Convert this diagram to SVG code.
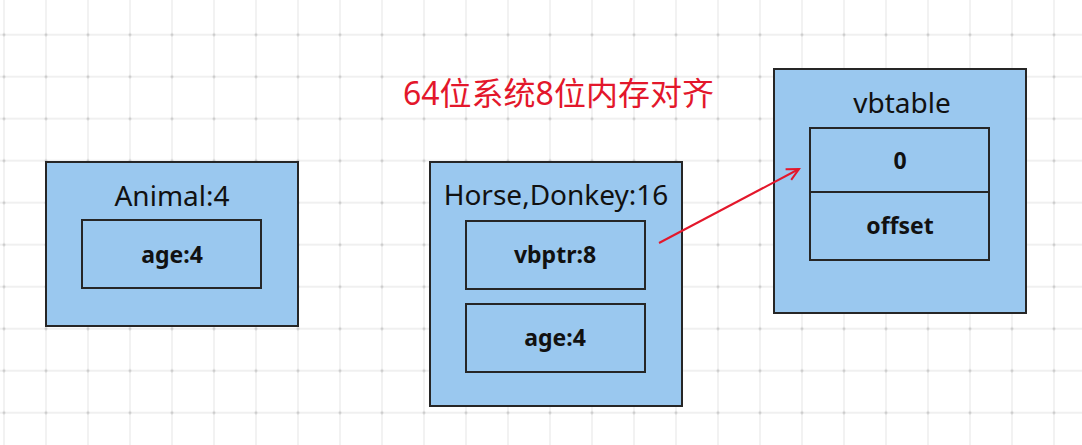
<svg xmlns="http://www.w3.org/2000/svg" width="1082" height="445" viewBox="0 0 1082 445">
<style>
.box{fill:#9ac8ef;stroke:#262626;stroke-width:2}
.head{font-family:"Noto Sans","Liberation Sans",sans-serif;font-size:28px;fill:#111;text-anchor:middle}
.lbl{font-family:"Noto Sans","Liberation Sans",sans-serif;font-size:23px;font-weight:bold;fill:#111;text-anchor:middle}
.title{font-family:"Noto Sans","Noto Sans CJK SC",sans-serif;font-size:32px;fill:#e3172b}
</style>
<defs>
<pattern id="grid" patternUnits="userSpaceOnUse" x="-17" y="13.7" width="42" height="42">
<line x1="21" y1="0" x2="21" y2="42" stroke="#ebebeb" stroke-width="1.3"/>
<line x1="0" y1="21" x2="42" y2="21" stroke="#ebebeb" stroke-width="1.3"/>
<circle cx="21" cy="21" r="1.5" fill="#cdcdcd"/>
</pattern>
<marker id="arr" markerWidth="16" markerHeight="16" refX="14" refY="8" orient="auto" markerUnits="userSpaceOnUse">
<path d="M2,2 L14,8 L2,14" fill="none" stroke="#e3172b" stroke-width="2"/>
</marker>
</defs>
<rect width="1082" height="445" fill="#fff"/>
<rect width="1082" height="445" fill="url(#grid)"/>
<text class="title" x="403" y="105">64位系统8位内存对齐</text>
<g id="animal">
<rect class="box" x="46" y="162" width="252" height="164"/>
<text class="head" x="172" y="206">Animal:4</text>
<rect class="box" x="82" y="220" width="179" height="68"/>
<text class="lbl" x="172" y="263">age:4</text>
</g>
<g id="horse">
<rect class="box" x="430" y="162" width="252" height="244"/>
<text class="head" x="556" y="205">Horse,Donkey:16</text>
<rect class="box" x="466" y="221" width="179" height="68"/>
<text class="lbl" x="555" y="263">vbptr:8</text>
<rect class="box" x="466" y="304" width="179" height="68"/>
<text class="lbl" x="555" y="346">age:4</text>
</g>
<g id="vbtable">
<rect class="box" x="774" y="69" width="252" height="244"/>
<text class="head" x="902" y="113">vbtable</text>
<rect class="box" x="810" y="128" width="179" height="132"/>
<line x1="810" y1="192" x2="989" y2="192" stroke="#262626" stroke-width="2"/>
<text class="lbl" x="900" y="169">0</text>
<text class="lbl" x="900" y="234">offset</text>
</g>
<g id="connectors">
<line x1="659" y1="243" x2="799" y2="169" stroke="#e3172b" stroke-width="2" marker-end="url(#arr)"/>
</g>
</svg>
